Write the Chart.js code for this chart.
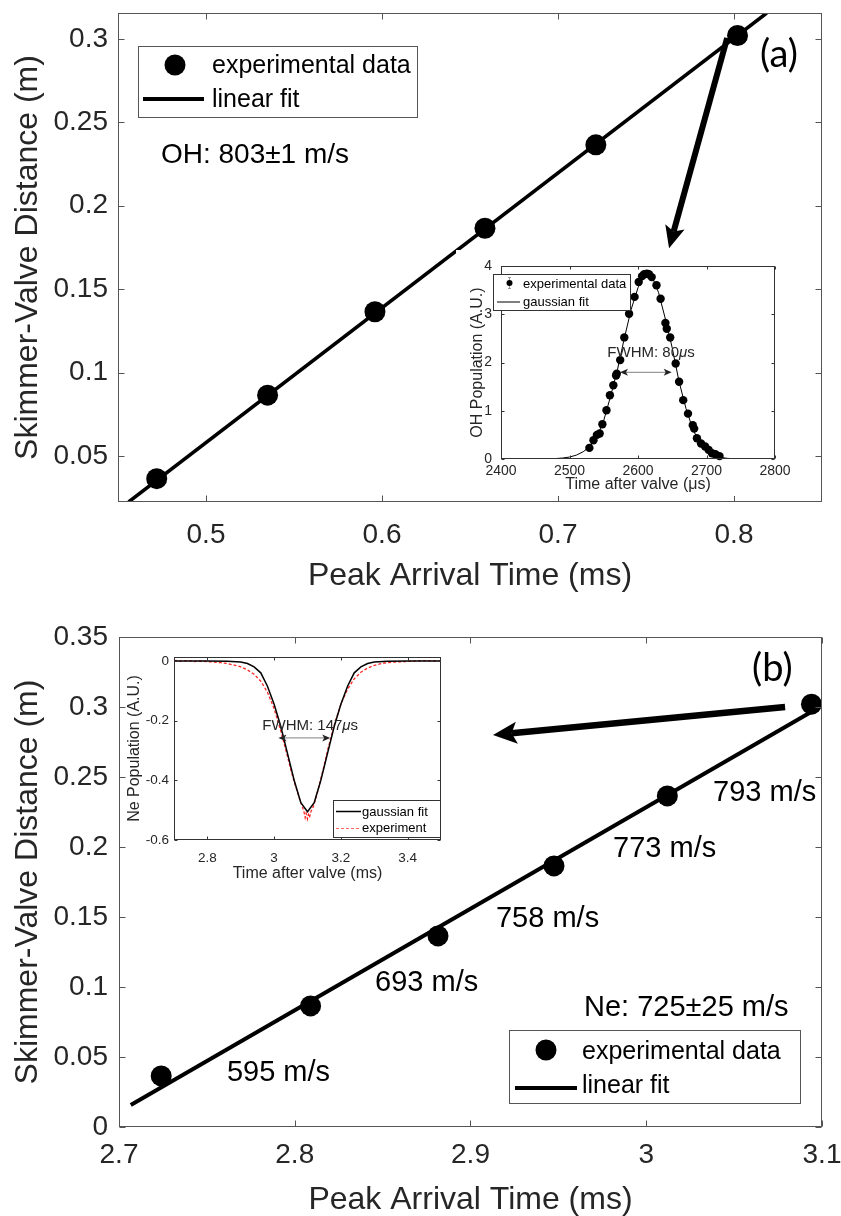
<!DOCTYPE html>
<html>
<head>
<meta charset="utf-8">
<script src="https://cdn.jsdelivr.net/npm/chart.js@4/dist/chart.umd.min.js"></script>
<style>
html, body { margin: 0; padding: 0; background: #fff; }
#wrap { position: relative; width: 841px; height: 1216px; overflow: hidden; background: #fff; }
canvas { position: absolute; }
</style>
</head>
<body>
<div id="wrap">
  <canvas id="ohMain" width="841" height="600" style="left:0;top:0"></canvas>
  <canvas id="neMain" width="841" height="616" style="left:0;top:600px"></canvas>
  <canvas id="ohInset" width="334" height="246" style="left:456px;top:250px"></canvas>
  <canvas id="neInset" width="330" height="245" style="left:126px;top:645px"></canvas>
</div>
<script>
// ---------- (a) OH: skimmer-valve distance vs peak arrival time ----------
const distances   = [0.0365, 0.0865, 0.1365, 0.1865, 0.2365, 0.302];
const ohArrival   = [0.472, 0.535, 0.596, 0.6585, 0.7215, 0.802];
const ohFitTime   = [0.456, 0.8186];
const ohFitDist   = [0.0225, 0.3155];
const ohXTicks    = [0.5, 0.6, 0.7, 0.8];
const ohYTicks    = [0.05, 0.1, 0.15, 0.2, 0.25, 0.3];

// ---------- (b) Ne: skimmer-valve distance vs peak arrival time ----------
const neArrival   = [2.724, 2.809, 2.8815, 2.9475, 3.012, 3.094];
const neFitTime   = [2.7067, 3.096];
const neFitDist   = [0.0157, 0.298];
const neSpeeds    = ['595 m/s', '693 m/s', '758 m/s', '773 m/s', '793 m/s'];
const neXTicks    = [2.7, 2.8, 2.9, 3.0, 3.1];
const neYTicks    = [0, 0.05, 0.1, 0.15, 0.2, 0.25, 0.3, 0.35];

// ---------- inset (a): OH time-of-flight profile ----------
const ohTofTime = [2529, 2535, 2540, 2544, 2548, 2554, 2559, 2564, 2568, 2569,
                   2574, 2580, 2587, 2595, 2601, 2606, 2609, 2613, 2616, 2620,
                   2627, 2633, 2640, 2642, 2647, 2655, 2660, 2666, 2673, 2680,
                   2682, 2686, 2692, 2698, 2703, 2708, 2713, 2719];
const ohTofPop  = [0.23, 0.39, 0.50, 0.53, 0.72, 1.01, 1.32, 1.53, 1.73, 1.77,
                   2.05, 2.52, 3.01, 3.36, 3.67, 3.79, 3.83, 3.84, 3.83, 3.77,
                   3.60, 3.32, 2.82, 2.70, 2.52, 1.98, 1.60, 1.22, 0.94, 0.70,
                   0.63, 0.43, 0.32, 0.26, 0.19, 0.12, 0.10, 0.06];
const ohGaussTime = [2400, 2440, 2460, 2480, 2490, 2500, 2510, 2520, 2530, 2540,
                     2550, 2560, 2570, 2580, 2590, 2600, 2610, 2615, 2620, 2630,
                     2640, 2650, 2660, 2670, 2680, 2690, 2700, 2710, 2720, 2730,
                     2740, 2760, 2800];
const ohGaussPop  = [0, 0, 0.002, 0.01, 0.02, 0.04, 0.08, 0.15, 0.26, 0.45,
                     0.80, 1.30, 1.85, 2.50, 3.10, 3.55, 3.82, 3.85, 3.80, 3.45,
                     2.90, 2.30, 1.60, 1.05, 0.62, 0.33, 0.17, 0.08, 0.035, 0.014,
                     0.005, 0.001, 0];
const ohTofXTicks = [2400, 2500, 2600, 2700, 2800];
const ohTofYTicks = [0, 1, 2, 3, 4];

// ---------- inset (b): Ne depletion profile ----------
const neGaussTime = [2.70, 2.80, 2.86, 2.90, 2.92, 2.94, 2.96, 2.98, 3.00, 3.02,
                     3.04, 3.06, 3.08, 3.10, 3.12, 3.14, 3.16, 3.18, 3.20, 3.22,
                     3.24, 3.26, 3.28, 3.30, 3.34, 3.40, 3.50];
const neGaussPop  = [0, 0, -0.001, -0.004, -0.009, -0.02, -0.04, -0.085, -0.145, -0.22,
                     -0.31, -0.40, -0.475, -0.505, -0.475, -0.40, -0.31, -0.22, -0.145, -0.085,
                     -0.04, -0.02, -0.009, -0.004, -0.001, 0, 0];
const neExpTime = [2.70, 2.72, 2.74, 2.76, 2.78, 2.80, 2.82, 2.84, 2.86, 2.88,
                   2.90, 2.92, 2.94, 2.96, 2.98, 3.00, 3.02, 3.04, 3.05, 3.06,
                   3.07, 3.08, 3.085, 3.09, 3.093, 3.096, 3.10, 3.103, 3.106, 3.11,
                   3.115, 3.12, 3.13, 3.14, 3.15, 3.16, 3.18, 3.20, 3.22, 3.24,
                   3.26, 3.28, 3.30, 3.32, 3.34, 3.36, 3.40, 3.45, 3.50];
const neExpPop  = [0.002, -0.001, 0.001, -0.002, -0.001, -0.003, -0.004, -0.006, -0.009, -0.014,
                   -0.020, -0.030, -0.045, -0.068, -0.105, -0.160, -0.235, -0.320, -0.365, -0.405,
                   -0.440, -0.475, -0.490, -0.508, -0.525, -0.510, -0.530, -0.515, -0.525, -0.505,
                   -0.495, -0.480, -0.440, -0.395, -0.350, -0.300, -0.215, -0.145, -0.095, -0.060,
                   -0.038, -0.024, -0.015, -0.009, -0.006, -0.004, -0.002, 0.001, -0.001];
const neTofXTicks = [2.8, 3.0, 3.2, 3.4];
const neTofYTicks = [0, -0.2, -0.4, -0.6];

// ---------- shared helpers ----------
const SANS  = "'Liberation Sans', Arial, Helvetica, sans-serif";
const PANEL = "Lato, 'Open Sans', sans-serif";
const AXIS_TEXT = '#262626';

const zip = (xs, ys) => xs.map((x, i) => ({ x, y: ys[i] }));
const fmt = v => String(+(+v).toFixed(4));

function makeScale(o) {
  return {
    type: 'linear',
    position: o.horizontal ? 'bottom' : 'left',
    min: o.min, max: o.max,
    grid: { display: false, drawTicks: false },
    border: { display: false },
    ticks: {
      autoSkip: false, maxRotation: 0, minRotation: 0,
      padding: o.pad, color: AXIS_TEXT,
      font: { size: o.fs, family: SANS },
      callback: v => fmt(v)
    },
    title: {
      display: true, text: o.title, color: AXIS_TEXT,
      font: { size: o.tfs, family: SANS, lineHeight: 1 },
      padding: o.tpad
    },
    afterBuildTicks: s => { s.ticks = o.values.map(v => ({ value: v })); },
    afterFit: s => {
      if (o.horizontal) { s.height = o.size; s.paddingLeft = 0; s.paddingRight = 0; }
      else { s.width = o.size; s.paddingTop = 0; s.paddingBottom = 0; }
    }
  };
}

// box around the plot area with inward tick marks on all four sides
const framePlugin = {
  id: 'frame',
  afterDatasetsDraw(chart, args, opts) {
    const { ctx, chartArea: a } = chart;
    const sx = chart.scales.x, sy = chart.scales.y;
    const L = Math.round(a.left) + 0.5, R = Math.round(a.right) - 0.5;
    const T = Math.round(a.top) + 0.5, B = Math.round(a.bottom) - 0.5;
    ctx.save();
    ctx.strokeStyle = opts.color; ctx.lineWidth = 1;
    ctx.strokeRect(L, T, R - L, B - T);
    ctx.beginPath();
    sx.ticks.forEach(t => {
      const p = Math.round(sx.getPixelForValue(t.value)) + 0.5;
      ctx.moveTo(p, B); ctx.lineTo(p, B - opts.len);
      ctx.moveTo(p, T); ctx.lineTo(p, T + opts.len);
    });
    sy.ticks.forEach(t => {
      const p = Math.round(sy.getPixelForValue(t.value)) + 0.5;
      ctx.moveTo(L, p); ctx.lineTo(L + opts.len, p);
      ctx.moveTo(R, p); ctx.lineTo(R - opts.len, p);
    });
    ctx.stroke();
    ctx.restore();
  }
};

function toPx(chart, x, y) {
  return [chart.scales.x.getPixelForValue(x), chart.scales.y.getPixelForValue(y)];
}

function arrow(ctx, x1, y1, x2, y2, w, len, half, color) {
  const ang = Math.atan2(y2 - y1, x2 - x1);
  const c = Math.cos(ang), s = Math.sin(ang);
  const bx = x2 - len * c, by = y2 - len * s;
  const nx = x2 - len * 0.78 * c, ny = y2 - len * 0.78 * s;
  ctx.save();
  ctx.strokeStyle = color; ctx.fillStyle = color;
  ctx.lineWidth = w; ctx.lineCap = 'butt';
  ctx.beginPath(); ctx.moveTo(x1, y1); ctx.lineTo(nx, ny); ctx.stroke();
  ctx.beginPath();
  ctx.moveTo(x2, y2);
  ctx.lineTo(bx + half * s, by - half * c);
  ctx.lineTo(nx, ny);
  ctx.lineTo(bx - half * s, by + half * c);
  ctx.closePath(); ctx.fill();
  ctx.restore();
}

function doubleArrow(ctx, x1, x2, y) {
  ctx.save();
  ctx.strokeStyle = '#9a9a9a'; ctx.lineWidth = 1.3;
  ctx.beginPath(); ctx.moveTo(x1 + 3, y); ctx.lineTo(x2 - 3, y); ctx.stroke();
  ctx.fillStyle = '#222';
  [[x1, 1], [x2, -1]].forEach(([x, d]) => {
    ctx.beginPath();
    ctx.moveTo(x, y);
    ctx.lineTo(x + d * 8, y - 3.5);
    ctx.lineTo(x + d * 6, y);
    ctx.lineTo(x + d * 8, y + 3.5);
    ctx.closePath(); ctx.fill();
  });
  ctx.restore();
}

// text made of runs with different fonts (for the italic micro sign)
function richText(ctx, parts, x, y, align, color) {
  ctx.save();
  ctx.fillStyle = color; ctx.textBaseline = 'middle'; ctx.textAlign = 'left';
  let total = 0;
  parts.forEach(p => { ctx.font = p.font; total += ctx.measureText(p.t).width; });
  let cx = align === 'center' ? x - total / 2 : x;
  parts.forEach(p => { ctx.font = p.font; ctx.fillText(p.t, cx, y); cx += ctx.measureText(p.t).width; });
  ctx.restore();
}

function text(ctx, s, x, y, font, color, align) {
  ctx.save();
  ctx.font = font; ctx.fillStyle = color;
  ctx.textAlign = align || 'left'; ctx.textBaseline = 'middle';
  ctx.fillText(s, x, y);
  ctx.restore();
}

function bigLegend(ctx, bx, by, w, h, rows) {
  ctx.save();
  ctx.fillStyle = '#fff'; ctx.fillRect(bx, by, w, h);
  ctx.strokeStyle = '#555'; ctx.lineWidth = 1;
  ctx.strokeRect(Math.round(bx) + 0.5, Math.round(by) + 0.5, w, h);
  ctx.fillStyle = '#000';
  ctx.beginPath(); ctx.arc(bx + rows.marker[0], by + rows.marker[1], 10.5, 0, Math.PI * 2); ctx.fill();
  ctx.strokeStyle = '#000'; ctx.lineWidth = 4;
  ctx.beginPath(); ctx.moveTo(bx + rows.line[0], by + rows.line[2]); ctx.lineTo(bx + rows.line[1], by + rows.line[2]); ctx.stroke();
  ctx.restore();
  text(ctx, 'experimental data', bx + rows.textX, by + rows.y1, '25px ' + SANS, '#000');
  text(ctx, 'linear fit', bx + rows.textX, by + rows.y2, '25px ' + SANS, '#000');
}

const baseOptions = (padding) => ({
  responsive: false, animation: false, devicePixelRatio: 1, events: [],
  layout: { padding },
  plugins: { legend: { display: false }, tooltip: { enabled: false } }
});

// ---------- chart (a) ----------
{
  const opts = baseOptions({ left: 0, top: 13, right: 19, bottom: 0 });
  opts.plugins.frame = { color: '#555', len: 6 };
  opts.scales = {
    x: makeScale({ horizontal: true, min: 0.45, max: 0.85, values: ohXTicks, fs: 28, pad: 16,
                   title: 'Peak Arrival Time (ms)', tfs: 32, tpad: { top: 0, bottom: 8 }, size: 98 }),
    y: makeScale({ horizontal: false, min: 0.0225, max: 0.3155, values: ohYTicks, fs: 28, pad: 10,
                   title: 'Skimmer-Valve Distance (m)', tfs: 32, tpad: { top: 12, bottom: 0 }, size: 118 })
  };
  new Chart(document.getElementById('ohMain'), {
    type: 'scatter',
    data: { datasets: [
      { label: 'experimental data', data: zip(ohArrival, distances), pointRadius: 10.5,
        pointBackgroundColor: '#000', pointBorderWidth: 0, showLine: false, clip: false },
      { label: 'linear fit', data: zip(ohFitTime, ohFitDist), showLine: true, borderColor: '#000',
        borderWidth: 3.5, pointRadius: 0 }
    ] },
    options: opts,
    plugins: [framePlugin, {
      id: 'ohDecor',
      afterDraw(chart) {
        const ctx = chart.ctx, a = chart.chartArea;
        const [x1, y1] = toPx(chart, 0.7961, 0.3005);
        const [x2, y2] = toPx(chart, 0.7631, 0.1746);
        arrow(ctx, x1, y1, x2, y2, 6, 22, 10, '#000');
        bigLegend(ctx, a.left + 20, a.top + 33, 279, 71,
          { marker: [37, 19], line: [5, 66, 53], textX: 74, y1: 20, y2: 54 });
        const [tx, ty] = toPx(chart, 0.4744, 0.2303);
        text(ctx, 'OH: 803\u00B11 m/s', tx, ty, '28px ' + SANS, '#000');
        const [px, py] = toPx(chart, 0.8148, 0.2903);
        text(ctx, '(a)', px, py, '38px ' + PANEL, '#000');
      }
    }]
  });
}

// ---------- chart (b) ----------
{
  const opts = baseOptions({ left: 0, top: 37, right: 19, bottom: 0 });
  opts.plugins.frame = { color: '#555', len: 6 };
  opts.scales = {
    x: makeScale({ horizontal: true, min: 2.7, max: 3.1, values: neXTicks, fs: 28, pad: 11,
                   title: 'Peak Arrival Time (ms)', tfs: 32, tpad: { top: 0, bottom: 0 }, size: 89 }),
    y: makeScale({ horizontal: false, min: 0, max: 0.35, values: neYTicks, fs: 28, pad: 11,
                   title: 'Skimmer-Valve Distance (m)', tfs: 32, tpad: { top: 12, bottom: 0 }, size: 119 })
  };
  const speedAt = [[2.7614, 0.0386], [2.8457, 0.1029], [2.9145, 0.1486], [2.9811, 0.1986], [3.038, 0.2386]];
  new Chart(document.getElementById('neMain'), {
    type: 'scatter',
    data: { datasets: [
      { label: 'experimental data', data: zip(neArrival, distances), pointRadius: 10.5,
        pointBackgroundColor: '#000', pointBorderWidth: 0, showLine: false, clip: false },
      { label: 'linear fit', data: zip(neFitTime, neFitDist), showLine: true, borderColor: '#000',
        borderWidth: 4, pointRadius: 0 }
    ] },
    options: opts,
    plugins: [framePlugin, {
      id: 'neDecor',
      afterDraw(chart) {
        const ctx = chart.ctx, a = chart.chartArea;
        const [x1, y1] = toPx(chart, 3.079, 0.300);
        const [x2, y2] = toPx(chart, 2.9128, 0.280);
        arrow(ctx, x1, y1, x2, y2, 6.5, 24, 11, '#000');
        neSpeeds.forEach((s, i) => {
          const [tx, ty] = toPx(chart, speedAt[i][0], speedAt[i][1]);
          text(ctx, s, tx, ty, '29px ' + SANS, '#000');
        });
        const [nx, ny] = toPx(chart, 2.9646, 0.0852);
        text(ctx, 'Ne: 725\u00B125 m/s', nx, ny, '29px ' + SANS, '#000');
        const [px, py] = toPx(chart, 3.0602, 0.3271);
        text(ctx, '(b)', px, py, '38px ' + PANEL, '#000');
        const w = 291, h = 73;
        bigLegend(ctx, a.right - 22 - w, a.bottom - 24 - h, w, h,
          { marker: [37, 20], line: [6, 68, 58], textX: 73, y1: 22, y2: 56 });
      }
    }]
  });
}

// ---------- inset (a) ----------
{
  const opts = baseOptions({ left: 0, top: 16, right: 15, bottom: 0 });
  opts.plugins.frame = { color: '#333', len: 3 };
  opts.scales = {
    x: makeScale({ horizontal: true, min: 2400, max: 2800, values: ohTofXTicks, fs: 14, pad: 3.6,
                   title: 'Time after valve (\u03BCs)', tfs: 16, tpad: { top: 0, bottom: 3 }, size: 37 }),
    y: makeScale({ horizontal: false, min: 0, max: 4, values: ohTofYTicks, fs: 14, pad: 9,
                   title: 'OH Population (A.U.)', tfs: 16, tpad: { top: 14, bottom: 0 }, size: 45 })
  };
  new Chart(document.getElementById('ohInset'), {
    type: 'scatter',
    data: { datasets: [
      { label: 'experimental data', data: zip(ohTofTime, ohTofPop), pointRadius: 4.2,
        pointBackgroundColor: '#000', pointBorderWidth: 0, showLine: false, clip: false },
      { label: 'gaussian fit', data: zip(ohGaussTime, ohGaussPop), showLine: true, borderColor: '#000',
        borderWidth: 1, pointRadius: 0 }
    ] },
    options: opts,
    plugins: [{
      id: 'ohInsetBg',
      beforeDraw(chart) {
        const ctx = chart.ctx;
        ctx.save(); ctx.fillStyle = '#fff'; ctx.fillRect(0, 0, chart.width, chart.height); ctx.restore();
      }
    }, framePlugin, {
      id: 'ohInsetDecor',
      afterDraw(chart) {
        const ctx = chart.ctx, a = chart.chartArea;
        const [ax1, ay] = toPx(chart, 2573.7, 1.797);
        const [ax2] = toPx(chart, 2649.2, 1.797);
        doubleArrow(ctx, ax1, ax2, ay);
        const [fx, fy] = toPx(chart, 2619, 2.2);
        richText(ctx, [
          { t: 'FWHM: 80', font: '15px ' + SANS },
          { t: '\u03BC', font: 'italic 15px ' + SANS },
          { t: 's', font: '15px ' + SANS }
        ], fx, fy, 'center', '#262626');
        // legend
        const bx = a.left - 8, by = a.top + 8, w = 137, h = 36;
        ctx.save();
        ctx.fillStyle = '#fff'; ctx.fillRect(bx, by, w, h);
        ctx.strokeStyle = '#333'; ctx.lineWidth = 1;
        ctx.strokeRect(Math.round(bx) + 0.5, Math.round(by) + 0.5, w, h);
        ctx.strokeStyle = '#999';
        ctx.beginPath();
        ctx.moveTo(bx + 16.5, by + 3); ctx.lineTo(bx + 16.5, by + 15);
        ctx.moveTo(bx + 15, by + 3.5); ctx.lineTo(bx + 18, by + 3.5);
        ctx.moveTo(bx + 15, by + 14.5); ctx.lineTo(bx + 18, by + 14.5);
        ctx.stroke();
        ctx.fillStyle = '#000';
        ctx.beginPath(); ctx.arc(bx + 16.5, by + 9, 3, 0, Math.PI * 2); ctx.fill();
        ctx.strokeStyle = '#000'; ctx.lineWidth = 1;
        ctx.beginPath(); ctx.moveTo(bx + 4, by + 28); ctx.lineTo(bx + 27, by + 28); ctx.stroke();
        ctx.restore();
        text(ctx, 'experimental data', bx + 30, by + 10, '13px ' + SANS, '#000');
        text(ctx, 'gaussian fit', bx + 30, by + 28, '13px ' + SANS, '#000');
      }
    }]
  });
}

// ---------- inset (b) ----------
{
  const opts = baseOptions({ left: 0, top: 12, right: 15, bottom: 0 });
  opts.plugins.frame = { color: '#333', len: 3 };
  opts.scales = {
    x: makeScale({ horizontal: true, min: 2.7, max: 3.5, values: neTofXTicks, fs: 13.5, pad: 10.6,
                   title: 'Time after valve (ms)', tfs: 16, tpad: { top: 0, bottom: 8 }, size: 50 }),
    y: makeScale({ horizontal: false, min: -0.6, max: 0.013, values: neTofYTicks, fs: 13.5, pad: 5,
                   title: 'Ne Population (A.U.)', tfs: 16, tpad: { top: 1, bottom: 0 }, size: 48 })
  };
  new Chart(document.getElementById('neInset'), {
    type: 'scatter',
    data: { datasets: [
      { label: 'gaussian fit', data: zip(neGaussTime, neGaussPop), showLine: true, borderColor: '#000',
        borderWidth: 1.5, pointRadius: 0 },
      { label: 'experiment', data: zip(neExpTime, neExpPop), showLine: true,
        borderColor: 'rgba(255,0,0,0.85)', borderDash: [3, 2], borderWidth: 1.3, pointRadius: 0 }
    ] },
    options: opts,
    plugins: [{
      id: 'neInsetBg',
      beforeDatasetsDraw(chart) {
        const { ctx, chartArea: a } = chart;
        ctx.save(); ctx.fillStyle = '#fff'; ctx.fillRect(a.left, a.top, a.right - a.left, a.bottom - a.top); ctx.restore();
      }
    }, framePlugin, {
      id: 'neInsetDecor',
      afterDraw(chart) {
        const ctx = chart.ctx, a = chart.chartArea;
        const [ax1, ay] = toPx(chart, 3.013, -0.258);
        const [ax2] = toPx(chart, 3.168, -0.258);
        doubleArrow(ctx, ax1, ax2, ay);
        const [fx, fy] = toPx(chart, 3.108, -0.218);
        richText(ctx, [
          { t: 'FWHM: 147', font: '15px ' + SANS },
          { t: '\u03BC', font: 'italic 15px ' + SANS },
          { t: 's', font: '15px ' + SANS }
        ], fx, fy, 'center', '#262626');
        // legend
        const w = 107, h = 37, bx = a.right - 1 - w, by = a.bottom - 3 - h;
        ctx.save();
        ctx.fillStyle = '#fff'; ctx.fillRect(bx, by, w, h);
        ctx.strokeStyle = '#333'; ctx.lineWidth = 1;
        ctx.strokeRect(Math.round(bx) + 0.5, Math.round(by) + 0.5, w, h);
        ctx.strokeStyle = '#000'; ctx.lineWidth = 1.5;
        ctx.beginPath(); ctx.moveTo(bx + 3, by + 11.5); ctx.lineTo(bx + 28, by + 11.5); ctx.stroke();
        ctx.strokeStyle = 'rgba(255,0,0,0.6)'; ctx.lineWidth = 1; ctx.setLineDash([3, 2]);
        ctx.beginPath(); ctx.moveTo(bx + 3, by + 28.5); ctx.lineTo(bx + 28, by + 28.5); ctx.stroke();
        ctx.restore();
        text(ctx, 'gaussian fit', bx + 29, by + 12, '13px ' + SANS, '#000');
        text(ctx, 'experiment', bx + 29, by + 28, '13px ' + SANS, '#000');
      }
    }]
  });
}
</script>
</body>
</html>
